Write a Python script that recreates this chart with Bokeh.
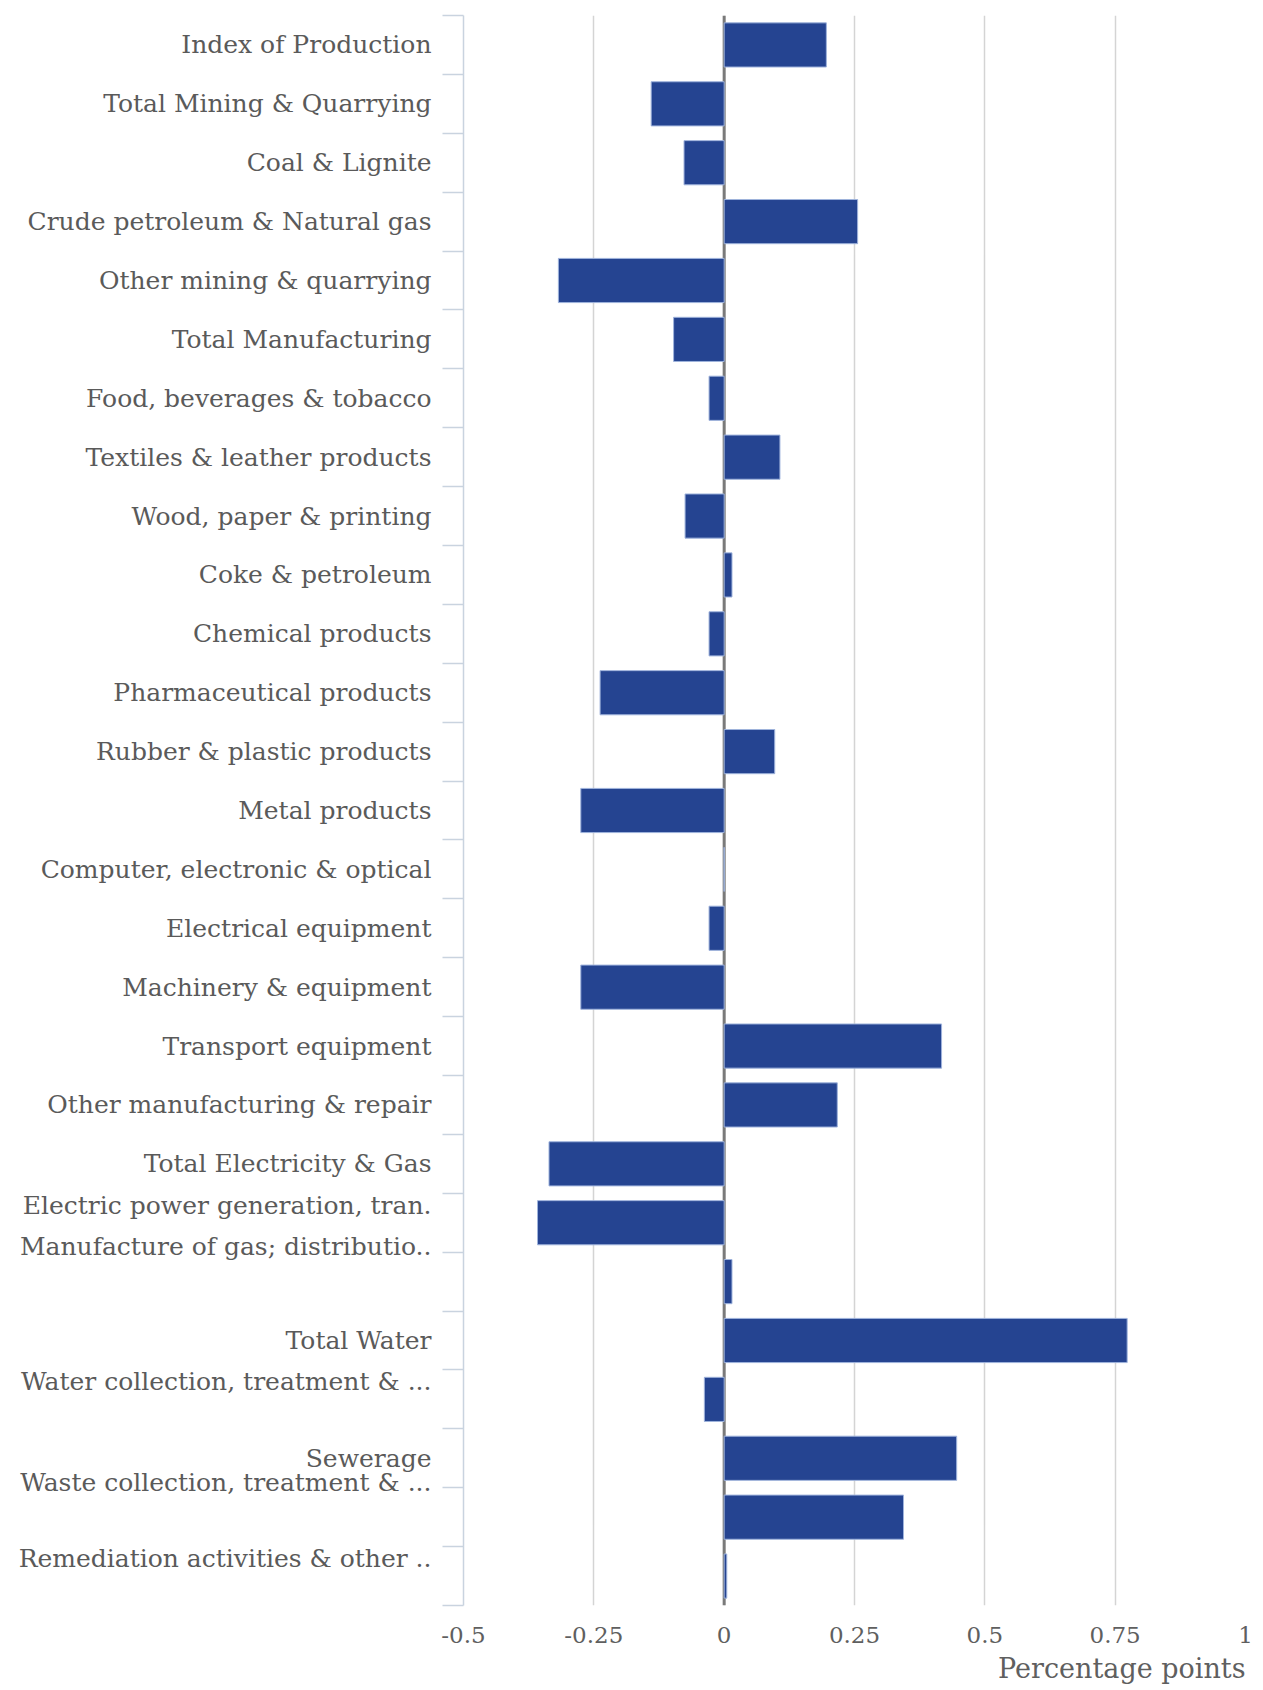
from bokeh.plotting import figure
from bokeh.models import Range1d, FixedTicker, Span, Title
from bokeh.embed import file_html
from bokeh.resources import INLINE

# Contribution to the change in the index, by industry (percentage points)
categories = [
    "Index of Production",
    "Total Mining & Quarrying",
    "Coal & Lignite",
    "Crude petroleum & Natural gas",
    "Other mining & quarrying",
    "Total Manufacturing",
    "Food, beverages & tobacco",
    "Textiles & leather products",
    "Wood, paper & printing",
    "Coke & petroleum",
    "Chemical products",
    "Pharmaceutical products",
    "Rubber & plastic products",
    "Metal products",
    "Computer, electronic & optical",
    "Electrical equipment",
    "Machinery & equipment",
    "Transport equipment",
    "Other manufacturing & repair",
    "Total Electricity & Gas",
    "Electric power generation, tran.",
    "Manufacture of gas; distributio..",
    "Total Water",
    "Water collection, treatment & ...",
    "Sewerage",
    "Waste collection, treatment & ...",
    "Remediation activities & other ..",
]
values = [
    0.196, -0.140, -0.077, 0.256, -0.318, -0.097, -0.029, 0.107, -0.075,
    0.015, -0.029, -0.238, 0.097, -0.275, 0.0, -0.029, -0.275, 0.417,
    0.217, -0.336, -0.358, 0.015, 0.773, -0.038, 0.446, 0.344, 0.005,
]
# wrapped labels keep only their first line visible
label_lines = [1] * 20 + [2, 3, 1, 2, 1, 3, 2]

x_ticks = [-0.5, -0.25, 0, 0.25, 0.5, 0.75, 1]
x_tick_labels = ["-0.5", "-0.25", "0", "0.25", "0.5", "0.75", "1"]
x_title = "Percentage points"

FONT = "DejaVu Serif"
n = len(categories)
centers = [i + 0.5 for i in range(n)]
bounds = [float(i) for i in range(n + 1)]

p = figure(
    width=1263, height=1690,
    x_range=Range1d(-0.5, 1.0), y_range=Range1d(n, 0),
    output_backend="svg", toolbar_location=None,
    min_border_left=463, min_border_right=18,
    min_border_top=15, min_border_bottom=85,
)
p.outline_line_color = None
p.background_fill_color = "white"

# zero line under the bars
p.add_layout(Span(location=0, dimension="height", line_color="#7a7a7a",
                  line_width=3, level="underlay"))

p.hbar(y=centers, right=values, left=0, height=0.75,
       fill_color="#254491", line_color="#9fb3dc", line_width=1)

# x axis
p.xaxis.ticker = FixedTicker(ticks=x_ticks)
p.xaxis.major_label_overrides = {t: s for t, s in zip(x_ticks, x_tick_labels)}
p.xaxis.axis_line_color = None
p.xaxis.major_tick_line_color = None
p.xaxis.minor_tick_line_color = None
p.xaxis.major_label_text_font = FONT
p.xaxis.major_label_text_font_size = "23px"
p.xaxis.major_label_text_color = "#5f5f5f"
p.xaxis.major_label_standoff = 15

p.xgrid.ticker = FixedTicker(ticks=x_ticks)
p.xgrid.grid_line_color = "#d4d4d4"
p.xgrid.grid_line_width = 1.5
p.ygrid.grid_line_color = None

# y axis: labels at slot centres, separators at slot boundaries
p.yaxis.ticker = FixedTicker(ticks=centers, minor_ticks=bounds)
p.yaxis.major_label_overrides = {
    c: name + "\n " * (k - 1) for c, name, k in zip(centers, categories, label_lines)
}
p.yaxis.axis_line_color = "#c9d3df"
p.yaxis.axis_line_width = 1.5
p.yaxis.major_tick_line_color = None
p.yaxis.major_tick_out = 0
p.yaxis.major_tick_in = 0
p.yaxis.minor_tick_line_color = "#c9d3df"
p.yaxis.minor_tick_line_width = 1.5
p.yaxis.minor_tick_out = 21
p.yaxis.minor_tick_in = 0
p.yaxis.major_label_text_font = FONT
p.yaxis.major_label_text_font_size = "25px"
p.yaxis.major_label_text_color = "#5a5a5a"
p.yaxis.major_label_standoff = 11

# axis title, right-aligned under the last tick
p.add_layout(Title(text=x_title, align="right",
                   text_font=FONT, text_font_size="27px",
                   text_font_style="normal", text_color="#5f5f5f",
                   standoff=11), "below")

open("out.html", "w").write(file_html(p, INLINE))
